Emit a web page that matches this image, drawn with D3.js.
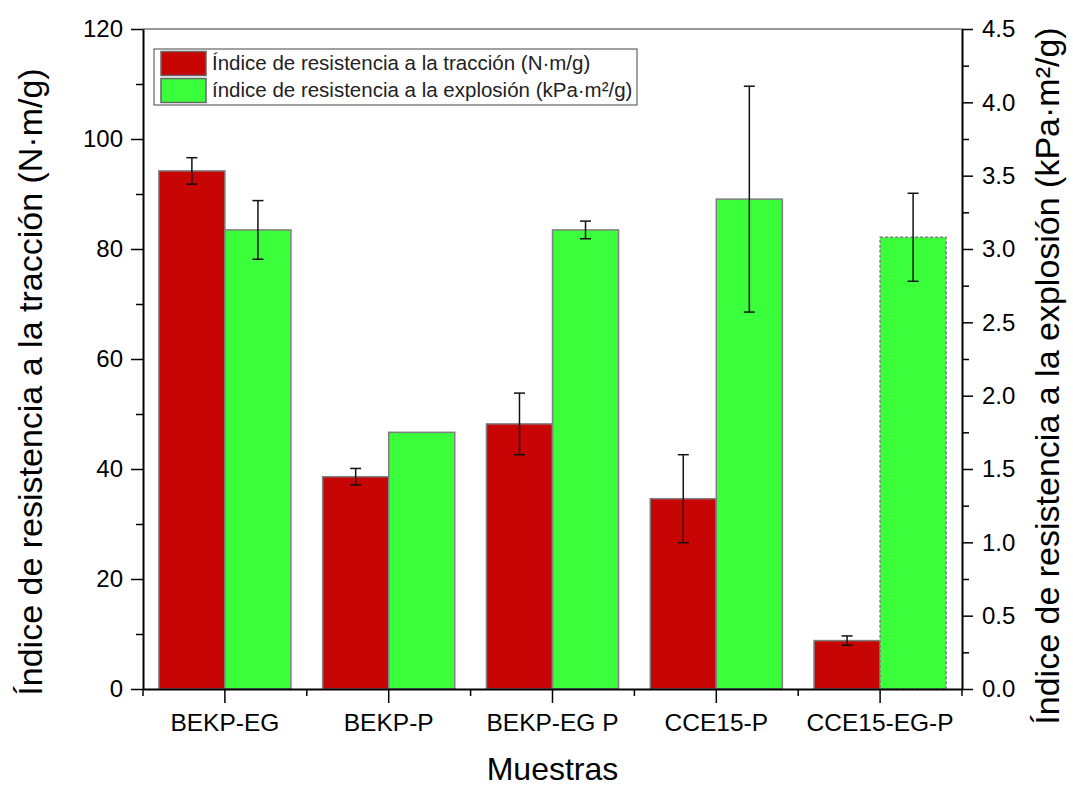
<!DOCTYPE html>
<html>
<head>
<meta charset="utf-8">
<script src="https://cdn.jsdelivr.net/npm/d3@7"></script>
<style>
  body { margin: 0; background: #fff; }
  svg { font-family: "Liberation Sans", Arial, sans-serif; }
  .axis path, .axis line { stroke: #000; }
  .axis text { fill: #000; }
</style>
</head>
<body>
<svg id="chart" width="1073" height="787"></svg>
<script>
// sample names
var categories = ["BEKP-EG", "BEKP-P", "BEKP-EG P", "CCE15-P", "CCE15-EG-P"];

// tensile index (N·m/g), left axis
var tensile = [94.2, 38.6, 48.2, 34.6, 8.8];
var tensileErr = [2.4, 1.5, 5.6, 8.0, 0.85];

// burst index (kPa·m²/g), right axis
var burst = [3.13, 1.75, 3.13, 3.34, 3.08];
var burstErr = [0.2, 0, 0.06, 0.77, 0.3];

// tick values
var leftTicks = [0, 20, 40, 60, 80, 100, 120];
var leftMinor = [10, 30, 50, 70, 90, 110];
var rightTicks = [0, 0.5, 1.0, 1.5, 2.0, 2.5, 3.0, 3.5, 4.0, 4.5];
var rightMinor = [0.25, 0.75, 1.25, 1.75, 2.25, 2.75, 3.25, 3.75, 4.25];

var seriesNames = ["Índice de resistencia a la tracción (N·m/g)", "índice de resistencia a la explosión (kPa·m²/g)"];
var colors = ["#c80505", "#3bff3b"];

var svg = d3.select("#chart");

// plot frame (note: "top" is reserved on window, so use prefixed names)
var plotL = 143, plotR = 962, plotT = 29, plotB = 689;

var x = d3.scaleBand().domain(categories).range([plotL, plotR]).padding(0);
var xs = d3.scaleBand().domain(["t", "b"]).range([0, x.bandwidth()]).paddingInner(0).paddingOuter(0.24);
var yL = d3.scaleLinear().domain([0, 120]).range([plotB, plotT]);
var yR = d3.scaleLinear().domain([0, 4.5]).range([plotB, plotT]);

// top frame line
svg.append("line")
  .attr("x1", plotL).attr("x2", plotR)
  .attr("y1", plotT).attr("y2", plotT)
  .attr("stroke", "#333").attr("stroke-width", 1);

// bars
var groups = svg.append("g").selectAll("g")
  .data(categories)
  .enter().append("g")
  .attr("transform", function(d) { return "translate(" + x(d) + ",0)"; });

groups.append("rect")
  .attr("x", xs("t"))
  .attr("width", xs.bandwidth())
  .attr("y", function(d, i) { return yL(tensile[i]); })
  .attr("height", function(d, i) { return plotB - yL(tensile[i]); })
  .attr("fill", colors[0])
  .attr("stroke", "#7f7f7f").attr("stroke-width", 1.5);

groups.append("rect")
  .attr("x", xs("b"))
  .attr("width", xs.bandwidth())
  .attr("y", function(d, i) { return yR(burst[i]); })
  .attr("height", function(d, i) { return plotB - yR(burst[i]); })
  .attr("fill", colors[1])
  .attr("stroke", "#7f7f7f").attr("stroke-width", 1.5)
  .attr("stroke-dasharray", function(d, i) { return i == 4 ? "3,2" : null; });

// error bars
function errorBar(g, cx, yTop, yBot) {
  g.append("line").attr("x1", cx).attr("x2", cx).attr("y1", yTop).attr("y2", yBot);
  g.append("line").attr("x1", cx - 5.5).attr("x2", cx + 5.5).attr("y1", yTop).attr("y2", yTop);
  g.append("line").attr("x1", cx - 5.5).attr("x2", cx + 5.5).attr("y1", yBot).attr("y2", yBot);
}
var errG = svg.append("g").attr("stroke", "#111").attr("stroke-width", 1.5);
categories.forEach(function(c, i) {
  var cx = x(c) + xs("t") + xs.bandwidth() / 2;
  errorBar(errG, cx, yL(tensile[i] + tensileErr[i]), yL(tensile[i] - tensileErr[i]));
  if (burstErr[i] > 0) {
    cx = x(c) + xs("b") + xs.bandwidth() / 2;
    errorBar(errG, cx, yR(burst[i] + burstErr[i]), yR(burst[i] - burstErr[i]));
  }
});

// left axis
svg.append("g").attr("class", "axis")
  .attr("transform", "translate(" + plotL + ",0)")
  .call(d3.axisLeft(yL).tickValues(leftMinor).tickSize(7).tickFormat(""))
  .call(function(g) { g.select(".domain").remove(); })
  .selectAll("line").attr("stroke-width", 1.5);
svg.append("g").attr("class", "axis")
  .attr("transform", "translate(" + plotL + ",0)")
  .call(d3.axisLeft(yL).tickValues(leftTicks).tickSize(12).tickSizeOuter(0).tickPadding(8).tickFormat(d3.format("d")))
  .call(function(g) {
    g.select(".domain").attr("stroke-width", 2);
    g.selectAll("line").attr("stroke-width", 1.5);
    g.selectAll("text").attr("font-size", 24).attr("font-family", null);
  });

// right axis
svg.append("g").attr("class", "axis")
  .attr("transform", "translate(" + plotR + ",0)")
  .call(d3.axisRight(yR).tickValues(rightMinor).tickSize(7).tickFormat(""))
  .call(function(g) { g.select(".domain").remove(); })
  .selectAll("line").attr("stroke-width", 1.5);
svg.append("g").attr("class", "axis")
  .attr("transform", "translate(" + plotR + ",0)")
  .call(d3.axisRight(yR).tickValues(rightTicks).tickSize(11).tickSizeOuter(0).tickPadding(9).tickFormat(d3.format(".1f")))
  .call(function(g) {
    g.select(".domain").attr("stroke-width", 2);
    g.selectAll("line").attr("stroke-width", 1.5);
    g.selectAll("text").attr("font-size", 24).attr("font-family", null);
  });

// bottom axis: minor ticks at band edges, major at centers
var edges = categories.map(function(c) { return x(c); }).concat([plotR]);
svg.append("g").attr("stroke", "#000").attr("stroke-width", 1.5)
  .selectAll("line").data(edges).enter().append("line")
  .attr("x1", function(d) { return d; }).attr("x2", function(d) { return d; })
  .attr("y1", plotB).attr("y2", plotB + 7);
svg.append("g").attr("class", "axis")
  .attr("transform", "translate(0," + plotB + ")")
  .call(d3.axisBottom(x).tickSize(14).tickSizeOuter(0).tickPadding(11))
  .call(function(g) {
    g.select(".domain").attr("stroke-width", 2);
    g.selectAll("line").attr("stroke-width", 1.5);
    g.selectAll("text").attr("font-size", 24.5).attr("font-family", null);
  });

// axis titles
svg.append("text")
  .attr("transform", "translate(42,382) rotate(-90)")
  .attr("text-anchor", "middle").attr("font-size", 34)
  .text("Índice de resistencia a la tracción (N·m/g)");
svg.append("text")
  .attr("transform", "translate(1059,376) rotate(-90)")
  .attr("text-anchor", "middle").attr("font-size", 34)
  .text("Índice de resistencia a la explosión (kPa·m²/g)");
svg.append("text")
  .attr("x", (plotL + plotR) / 2).attr("y", 780)
  .attr("text-anchor", "middle").attr("font-size", 32)
  .text("Muestras");

// legend
var legend = svg.append("g").attr("transform", "translate(154,49)");
legend.append("rect")
  .attr("width", 483).attr("height", 56)
  .attr("fill", "#fff").attr("stroke", "#444").attr("stroke-width", 1);
seriesNames.forEach(function(name, i) {
  legend.append("rect")
    .attr("x", 7).attr("y", 2.5 + i * 27)
    .attr("width", 45).attr("height", 24)
    .attr("fill", colors[i]).attr("stroke", "#666").attr("stroke-width", 1.5);
  legend.append("text")
    .attr("x", 58).attr("y", 21 + i * 27)
    .attr("font-size", 20.5).attr("fill", "#222")
    .text(name);
});
</script>
</body>
</html>
